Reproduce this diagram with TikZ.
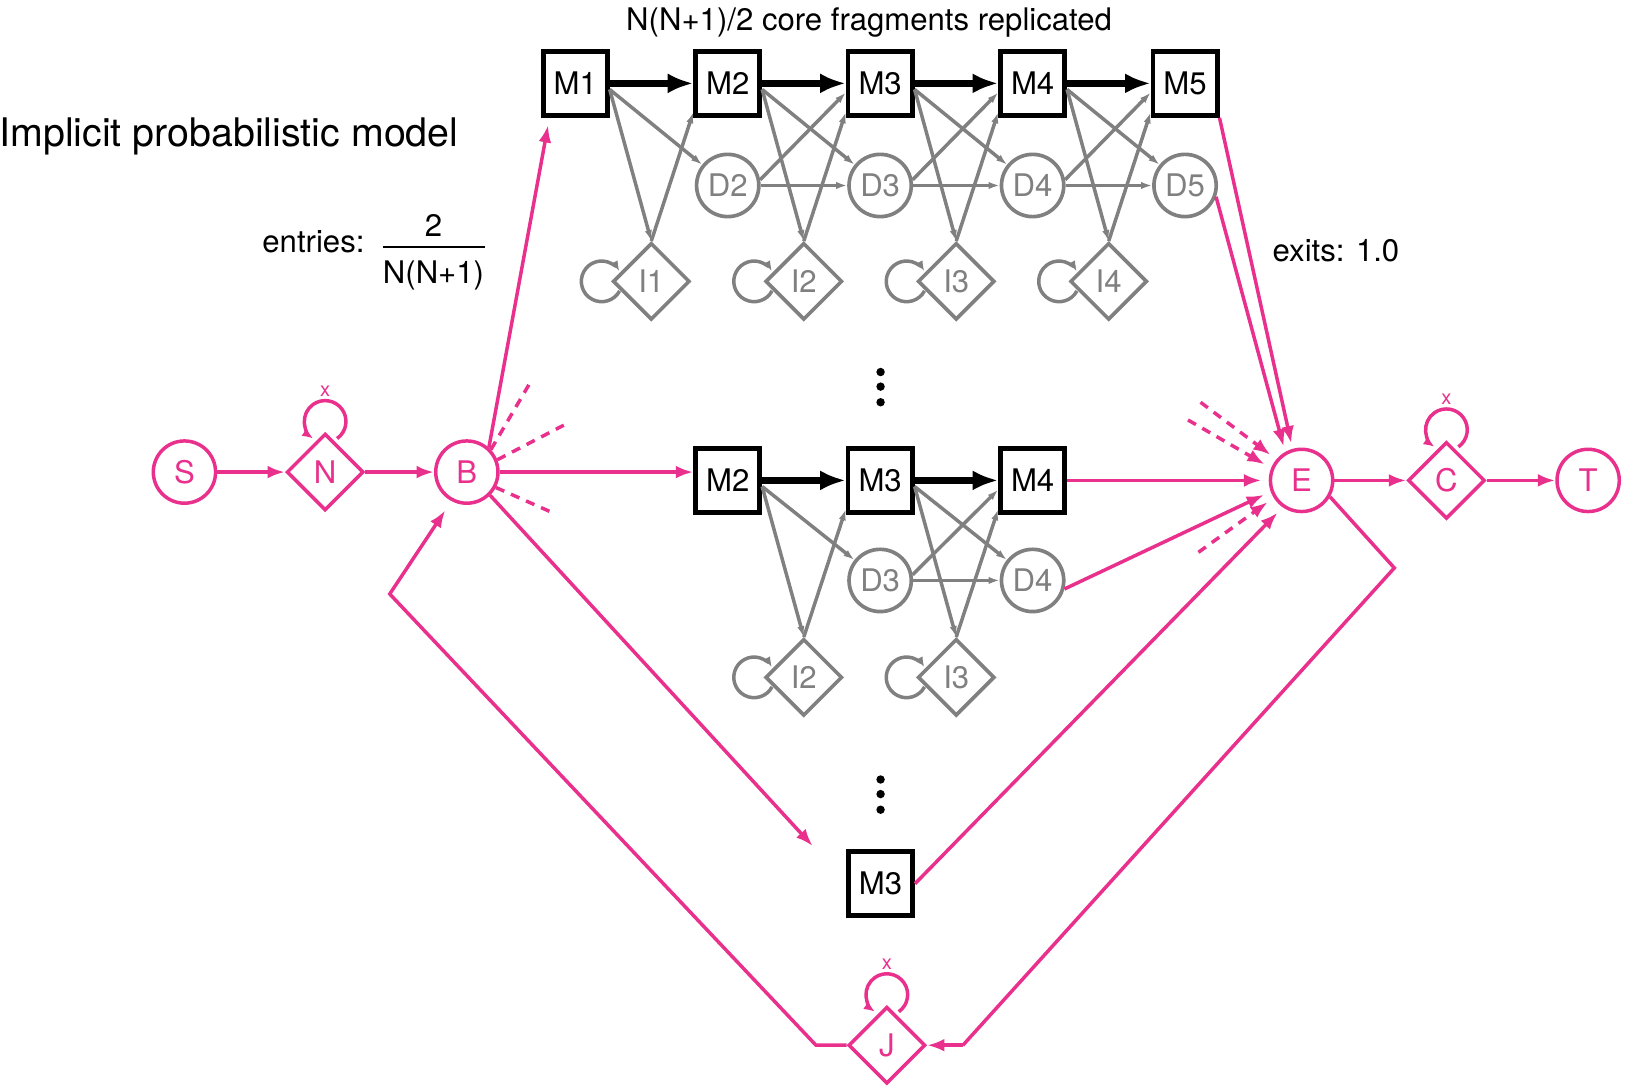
\documentclass[tikz,border=0pt]{standalone}
\usepackage{fontspec}
\setmainfont{TeX Gyre Heros}
\usepackage{xcolor}
\usetikzlibrary{shapes.geometric,arrows.meta,calc}
\definecolor{hmmpink}{RGB}{232,48,140}
\definecolor{hmmgray}{RGB}{128,128,128}
\def\fragsep{146.3}

\begin{document}
\begin{tikzpicture}[x=0.2mm,y=-0.2mm,font=\fontsize{17}{20}\selectfont]
    \tikzstyle{state}=[inner sep=0pt,fill=white]
    \tikzstyle{match}=[state,draw=black,line width=2.6pt,minimum size=35pt]
    \tikzstyle{delete}=[state,circle,draw=hmmgray,text=hmmgray,line width=2pt,minimum size=34pt]
    \tikzstyle{insert}=[state,diamond,draw=hmmgray,text=hmmgray,line width=2pt,minimum size=42pt]
    \tikzstyle{special}=[state,circle,draw=hmmpink,text=hmmpink,line width=1.9pt,minimum size=34pt]
    \tikzstyle{flank}=[state,diamond,draw=hmmpink,text=hmmpink,line width=1.9pt,minimum size=42pt]
    \tikzstyle{core}=[-{Latex[length=14pt,width=11pt]},line width=4pt]
    \tikzstyle{trans}=[-{Latex[length=6pt,width=4pt]},draw=hmmgray,line width=1.9pt]
    \tikzstyle{flow}=[-{Latex[length=9.5pt,width=7pt]},draw=hmmpink,line width=1.9pt]
    \tikzstyle{other}=[flow,dash pattern=on 5pt off 4pt]
    \tikzstyle{xlabel}=[text=hmmpink,font=\fontsize{11}{13}\selectfont]

    \useasboundingbox (0,0) rectangle (1568,1042);

    % Annotations
    \node[anchor=base west,font=\fontsize{21.5}{25}\selectfont] (model) at (-7,141) {Implicit probabilistic model};
    \node[anchor=base] (repl) at (834,29) {N(N+1)/2 core fragments replicated};
    \node[anchor=base east] (entries) at (356,242) {entries:};
    \node[anchor=base] (num) at (416,227) {2};
    \node[anchor=base] (den) at (416,272) {N(N+1)};
    \draw[line width=1.6pt] (368,237) -- (465,237);
    \node[anchor=base] (exits) at (1282,251) {exits: 1.0};

    % Draw the full core fragment M1..M5
    \foreach \i in {1,...,5}
        \node[match] (M-\i) at ({552+(\i-1)*\fragsep},80) {M\i};
    \foreach \i in {2,...,5}
        \node[delete] (D-\i) at ({552+(\i-1)*\fragsep},178) {D\i};
    \foreach \i in {1,...,4}
        \node[insert] (I-\i) at ({625+(\i-1)*\fragsep},270) {I\i};

    % Draw the fragment M2..M4
    \foreach \i in {2,3,4}
        \node[match] (MM-\i) at ({552+(\i-1)*\fragsep},461) {M\i};
    \foreach \i in {3,4}
        \node[delete] (MD-\i) at ({552+(\i-1)*\fragsep},557) {D\i};
    \foreach \i in {2,3}
        \node[insert] (MI-\i) at ({625+(\i-1)*\fragsep},650) {I\i};

    % Draw the single match fragment
    \node[match] (MB) at (845,848) {M3};

    % Elided fragments
    \foreach \y in {357,371,386}
        \fill (845,\y) circle (2.3pt);
    \foreach \y in {748,762,777}
        \fill (845,\y) circle (2.3pt);

    % Draw the flanking states
    \node[special] (S) at (177,453) {S};
    \node[flank] (N) at (312,453) {N};
    \node[special] (B) at (448,453) {B};
    \node[special] (E) at (1249,461) {E};
    \node[flank] (C) at (1388,461) {C};
    \node[special] (T) at (1524,461) {T};
    \node[flank] (J) at (851,1003) {J};

    % Connect the states of the full fragment
    \foreach \i [evaluate=\i as \j using int(\i+1)] in {1,...,4} {
        \draw[core] (M-\i) -- (M-\j);
        \draw[trans] (M-\i.350) -- (D-\j);
        \draw[trans] (M-\i.350) -- (I-\i.north);
        \draw[trans] (I-\i.north) -- (M-\j.220);
    }
    \foreach \i [evaluate=\i as \j using int(\i+1)] in {2,3,4} {
        \draw[trans] (D-\i.east) -- (D-\j.west);
        \draw[trans] (D-\i.10) -- (M-\j.195);
    }

    % Connect the states of the fragment M2..M4
    \foreach \i [evaluate=\i as \j using int(\i+1)] in {2,3} {
        \draw[core] (MM-\i) -- (MM-\j);
        \draw[trans] (MM-\i.350) -- (MD-\j);
        \draw[trans] (MM-\i.350) -- (MI-\i.north);
        \draw[trans] (MI-\i.north) -- (MM-\j.220);
    }
    \draw[trans] (MD-3.east) -- (MD-4.west);
    \draw[trans] (MD-3.10) -- (MM-4.195);

    % Insert self loops
    \foreach \n in {I-1,I-2,I-3,I-4,MI-2,MI-3}
        \draw[trans] ($(\n.west)+(-9,0)+(-28:3.9mm)$) arc[start angle=-28,end angle=-332,radius=3.9mm];

    % Flanking self loops
    \foreach \n in {N,C,J} {
        \draw[flow,-{Latex[length=6pt,width=5pt]}] ($(\n.north)+(0,-10)+(-55:4mm)$) arc[start angle=-55,end angle=235,radius=4mm];
        \node[xlabel] (\n-x) at ($(\n.north)+(0,-39)$) {x};
    }

    % Entry and exit paths
    \coordinate (M1in) at ($(M-1.south west)+(7,7)$);
    \coordinate (MBin) at ($(MB.north west)+(-32,-3)$);
    \coordinate (Bout1) at (510,365);
    \coordinate (Bout2) at (541,408);
    \coordinate (Bout3) at (528,491);
    \coordinate (Ein1) at (1152,386);
    \coordinate (Ein2) at (1140,403);
    \coordinate (Ein3) at (1150,530);
    \coordinate (jl) at (783,1003);
    \coordinate (lc) at (374,570);
    \coordinate (rc) at (1338,545);
    \coordinate (jr) at (924,1003);

    \draw[flow] (S) -- (N);
    \draw[flow] (N) -- (B);
    \draw[flow] (B.east) -- (B.east -| MM-2.west);
    \draw[flow] (B.48) -- (M1in);
    \draw[flow] (B.-45) -- (MBin);
    \draw[other,-] (B.43) -- (Bout1);
    \draw[other,-] (B.22) -- (Bout2);
    \draw[other,-] (B.-28) -- (Bout3);

    \draw[flow,shorten >=3pt] (M-5.south east) -- (E.106);
    \draw[flow,shorten >=3pt] (D-5.-20) -- (E.120);
    \draw[flow,shorten >=4pt] (MM-4) -- (E);
    \draw[flow,shorten >=4pt] (MD-4.-15) -- (E.200);
    \draw[flow,shorten >=4pt] (MB.east) -- (E.235);
    \draw[other,shorten >=4pt] (Ein1) -- (E.140);
    \draw[other,shorten >=4pt] (Ein2) -- (E.158);
    \draw[other,shorten >=4pt] (Ein3) -- (E.212);

    \draw[flow] (E) -- (C);
    \draw[flow] (C) -- (T);

    % Loop back through J
    \draw[flow,-] (E.-30) -- (rc) -- (jr);
    \draw[flow] (jr) -- (J.east);
    \draw[flow,shorten >=6pt] (J.west) -- (jl) -- (lc) -- (B.-118);
\end{tikzpicture}
\end{document}
